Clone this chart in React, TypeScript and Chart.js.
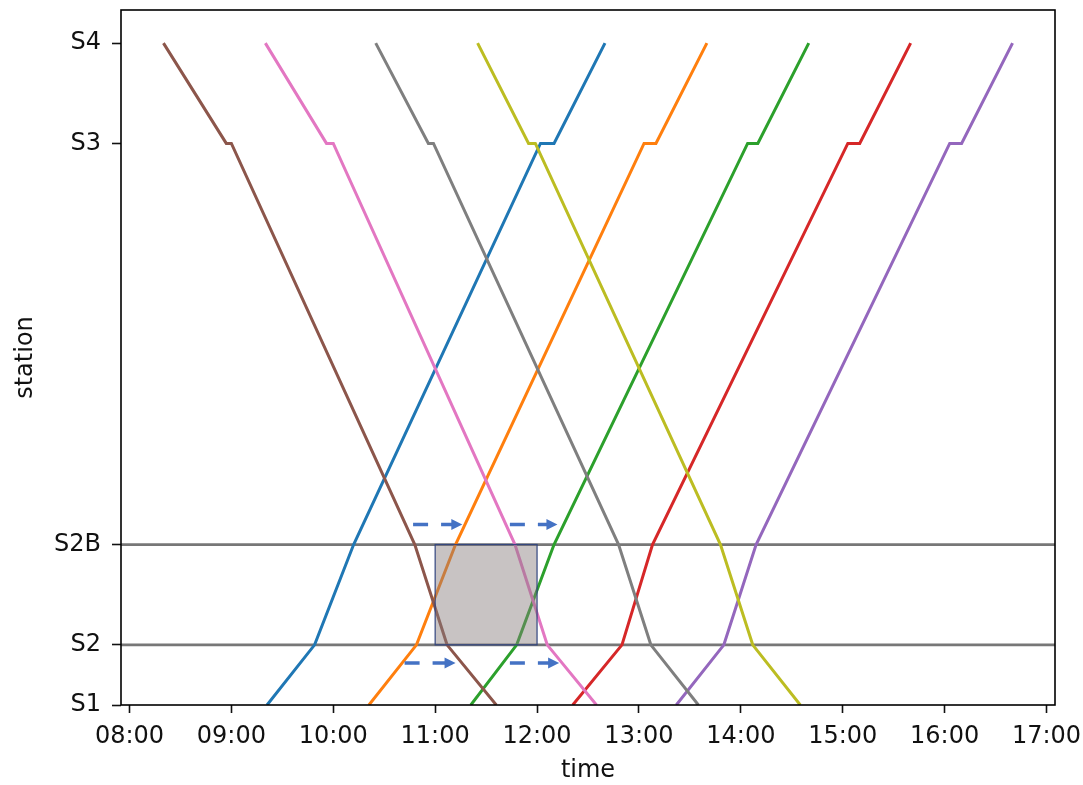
import React, { useEffect, useRef } from 'react';
import { Chart, registerables } from 'chart.js';

Chart.register(...registerables);

// ---- data ----
const stationNames = ['S1', 'S2', 'S2B', 'S3', 'S4'];
const stationKm = [0, 3, 8, 28, 33];

const upStops = ['S1', 'S2', 'S2B', 'S3', 'S3', 'S4'];
const downStops = ['S4', 'S3', 'S3', 'S2B', 'S2', 'S1'];

// up trains (S1 -> S4)
const blueTimes = ['09:21', '09:49', '10:12', '12:02', '12:10', '12:40'];
const orangeTimes = ['10:21', '10:49', '11:12', '13:03', '13:10', '13:40'];
const greenTimes = ['11:21', '11:48', '12:10', '14:04', '14:10', '14:40'];
const redTimes = ['12:21', '12:50', '13:08', '15:03', '15:10', '15:40'];
const purpleTimes = ['13:22', '13:50', '14:09', '16:03', '16:10', '16:40'];

// down trains (S4 -> S1)
const brownTimes = ['08:20', '08:57', '09:00', '10:48', '11:07', '11:36'];
const pinkTimes = ['09:20', '09:56', '10:00', '11:47', '12:06', '12:35'];
const grayTimes = ['10:25', '10:56', '10:59', '12:48', '13:07', '13:35'];
const oliveTimes = ['11:25', '11:55', '11:59', '13:48', '14:07', '14:35'];

const upTrains = [blueTimes, orangeTimes, greenTimes, redTimes, purpleTimes];
const upColors = ['#1f77b4', '#ff7f0e', '#2ca02c', '#d62728', '#9467bd'];
const downTrains = [brownTimes, pinkTimes, grayTimes, oliveTimes];
const downColors = ['#8c564b', '#e377c2', '#7f7f7f', '#bcbd22'];

const hourTicks = ['08:00', '09:00', '10:00', '11:00', '12:00', '13:00', '14:00', '15:00', '16:00', '17:00'];
const xRange = ['07:55', '17:05'];
const yRange = [0, 34.65];

// blocked section
const blockStations = ['S2', 'S2B'];
const blockWindow = ['11:00', '12:00'];

// shift arrows
const arrowFrom = ['10:47', '11:44', '10:42', '11:44'];
const arrowTo = ['11:16', '12:12', '11:12', '12:13'];
const arrowLevel = [9.0, 9.0, 2.1, 2.1];

// ---- helpers ----
const toMin = (s: string) => {
  const [h, m] = s.split(':').map(Number);
  return h * 60 + m;
};
const fmt = (v: number) => {
  const h = Math.floor(v / 60);
  const m = Math.round(v - h * 60);
  return String(h).padStart(2, '0') + ':' + String(m).padStart(2, '0');
};
const km = (name: string) => stationKm[stationNames.indexOf(name)];

const FONT = 'DejaVu Sans';

const overlayPlugin = {
  id: 'overlay',
  afterDatasetsDraw(chart: any) {
    const { ctx, chartArea, scales } = chart;
    const x = scales.x;
    const y = scales.y;
    ctx.save();
    // blocked box
    const bx0 = x.getPixelForValue(toMin(blockWindow[0]));
    const bx1 = x.getPixelForValue(toMin(blockWindow[1]));
    const by0 = y.getPixelForValue(km(blockStations[1]));
    const by1 = y.getPixelForValue(km(blockStations[0]));
    ctx.fillStyle = 'rgba(135,125,125,0.46)';
    ctx.fillRect(bx0, by0, bx1 - bx0, by1 - by0);
    ctx.strokeStyle = 'rgba(45,65,125,0.9)';
    ctx.lineWidth = 1.3;
    ctx.strokeRect(bx0, by0, bx1 - bx0, by1 - by0);

    // arrows
    const col = '#4472c4';
    for (let i = 0; i < arrowFrom.length; i++) {
      const ax0 = x.getPixelForValue(toMin(arrowFrom[i]));
      const ax1 = x.getPixelForValue(toMin(arrowTo[i]));
      const ay = y.getPixelForValue(arrowLevel[i]);
      const head = 11;
      ctx.strokeStyle = col;
      ctx.lineWidth = 3.5;
      ctx.setLineDash([15, 13]);
      ctx.beginPath();
      ctx.moveTo(ax0, ay);
      ctx.lineTo(ax1 - head + 1, ay);
      ctx.stroke();
      ctx.setLineDash([]);
      ctx.fillStyle = col;
      ctx.beginPath();
      ctx.moveTo(ax1, ay);
      ctx.lineTo(ax1 - head, ay - 5.5);
      ctx.lineTo(ax1 - head, ay + 5.5);
      ctx.closePath();
      ctx.fill();
    }

    // frame
    ctx.strokeStyle = '#000';
    ctx.lineWidth = 1.6;
    ctx.strokeRect(chartArea.left, chartArea.top, chartArea.right - chartArea.left, chartArea.bottom - chartArea.top);
    ctx.restore();
  },
};

export default function App() {
  const ref = useRef<HTMLCanvasElement>(null);

  useEffect(() => {
    if (!ref.current) return;
    const datasets: any[] = [];
    // horizontal lines for the two stations bounding the block
    blockStations.forEach((s) => {
      datasets.push({
        label: 'line ' + s,
        data: [
          { x: toMin(xRange[0]), y: km(s) },
          { x: toMin(xRange[1]), y: km(s) },
        ],
        borderColor: '#777777',
        borderWidth: 2.8,
        pointRadius: 0,
        order: 20,
      });
    });
    upTrains.forEach((times, i) => {
      datasets.push({
        label: 'up' + i,
        data: times.map((t, j) => ({ x: toMin(t), y: km(upStops[j]) })),
        borderColor: upColors[i],
        borderWidth: 3,
        pointRadius: 0,
        order: 10 - i,
      });
    });
    downTrains.forEach((times, i) => {
      datasets.push({
        label: 'down' + i,
        data: times.map((t, j) => ({ x: toMin(t), y: km(downStops[j]) })),
        borderColor: downColors[i],
        borderWidth: 3,
        pointRadius: 0,
        order: 5 - i,
      });
    });

    const tickFont = { family: FONT, size: 24 };
    const chart = new Chart(ref.current, {
      type: 'line',
      data: { datasets },
      plugins: [overlayPlugin],
      options: {
        animation: false,
        responsive: false,
        parsing: true,
        layout: { padding: { top: 10, right: 28, left: 0, bottom: 0 } },
        plugins: { legend: { display: false }, tooltip: { enabled: false } },
        elements: { line: { tension: 0 } },
        scales: {
          x: {
            type: 'linear',
            min: toMin(xRange[0]),
            max: toMin(xRange[1]),
            afterBuildTicks: (s: any) => {
              s.ticks = hourTicks.map((t) => ({ value: toMin(t) }));
            },
            afterFit: (s: any) => {
              s.height = 80;
              s.paddingLeft = 0;
              s.paddingRight = 0;
            },
            ticks: {
              callback: (v: any) => fmt(Number(v)),
              font: tickFont,
              color: '#111',
              padding: 9,
              maxRotation: 0,
              autoSkip: false,
            },
            grid: { display: true, drawOnChartArea: false, drawTicks: true, tickLength: 8, tickColor: '#111', tickWidth: 1.6 },
            border: { display: false },
            title: { display: true, text: 'time', font: { family: FONT, size: 24 }, color: '#111', padding: { top: 0, bottom: 0 } },
          },
          y: {
            type: 'linear',
            min: yRange[0],
            max: yRange[1],
            afterBuildTicks: (s: any) => {
              s.ticks = stationKm.map((v) => ({ value: v }));
            },
            afterFit: (s: any) => {
              s.width = 121;
              s.paddingTop = 0;
              s.paddingBottom = 0;
            },
            ticks: {
              callback: (v: any) => stationNames[stationKm.indexOf(Number(v))] ?? '',
              font: tickFont,
              color: '#111',
              padding: 11,
              autoSkip: false,
            },
            grid: { display: true, drawOnChartArea: false, drawTicks: true, tickLength: 9, tickColor: '#111', tickWidth: 1.6 },
            border: { display: false },
            title: { display: true, text: 'station', font: { family: FONT, size: 24 }, color: '#111', padding: { top: 11, bottom: 0 } },
          },
        },
      } as any,
    });
    return () => chart.destroy();
  }, []);

  return (
    <div style={{ position: 'fixed', left: 0, top: 0, width: 1083, height: 785, background: '#fff' }}>
      <canvas ref={ref} width={1083} height={785} style={{ display: 'block', width: 1083, height: 785 }} />
    </div>
  );
}
